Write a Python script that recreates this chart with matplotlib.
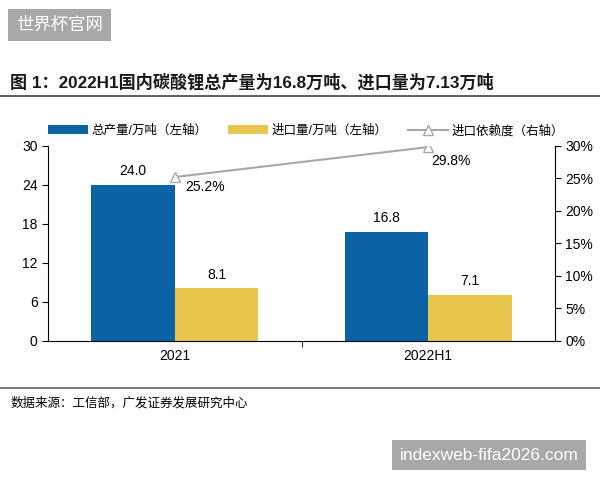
import matplotlib
matplotlib.use('agg')
import matplotlib.pyplot as plt
import numpy as np

plt.rcParams['font.family'] = ['Liberation Sans', 'Noto Sans CJK SC', 'DejaVu Sans']

categories = ['2021', '2022H1']
output_total = [24.0, 16.8]      # 总产量/万吨
imports = [8.1, 7.1]             # 进口量/万吨
import_ratio = [25.2, 29.8]      # 进口依赖度 %

left_ticks = [0, 6, 12, 18, 24, 30]
right_ticks = [0, 5, 10, 15, 20, 25, 30]

blue = '#0b63a5'
yellow = '#e8c54b'
gray = '#a8a8a8'

fig = plt.figure(figsize=(6, 4.8), dpi=100)
ax = fig.add_axes([0.08, 0.2896, 0.845, 0.4067])
ax2 = ax.twinx()

x = np.arange(len(categories))
w = 0.33
ax.bar(x - w / 2, output_total, w, color=blue, label='总产量/万吨（左轴）')
ax.bar(x + w / 2, imports, w, color=yellow, label='进口量/万吨（左轴）')
for xi, v in zip(x - w / 2, output_total):
    ax.text(xi, v + 1.0, f'{v:.1f}', ha='center', va='bottom', fontsize=10)
for xi, v in zip(x + w / 2, imports):
    ax.text(xi, v + 1.0, f'{v:.1f}', ha='center', va='bottom', fontsize=10)

ax2.plot(x, import_ratio, color=gray, lw=1.5, marker='^', ms=7,
         markerfacecolor='white', markeredgecolor=gray, label='进口依赖度（右轴）')
ax2.text(x[0] + 0.04, import_ratio[0] - 1.6, f'{import_ratio[0]:.1f}%', ha='left', va='center', fontsize=10)
ax2.text(x[1] + 0.01, import_ratio[1] - 2.1, f'{import_ratio[1]:.1f}%', ha='left', va='center', fontsize=10)

ax.set_xlim(-0.5, 1.5)
ax.set_ylim(0, 30)
ax2.set_ylim(0, 30)
ax.set_yticks(left_ticks)
ax2.set_yticks(right_ticks)
ax2.set_yticklabels([f'{t}%' for t in right_ticks])
ax.set_xticks(x)
ax.set_xticklabels(categories)
ax.set_xticks([0.5], minor=True)
ax.tick_params(axis='x', which='major', length=0, labelsize=10, pad=6)
ax.tick_params(axis='x', which='minor', length=4)
ax.tick_params(axis='y', labelsize=10, length=4)
ax2.tick_params(axis='y', labelsize=10, length=4)

for a in (ax, ax2):
    a.spines['top'].set_visible(False)
ax.spines['right'].set_visible(False)
ax2.spines['left'].set_visible(False)
ax2.spines['bottom'].set_visible(False)

h1, l1 = ax.get_legend_handles_labels()
h2, l2 = ax2.get_legend_handles_labels()
fig.legend(h1 + h2, l1 + l2, loc='center', bbox_to_anchor=(0.51, 0.727), ncol=3,
           frameon=False, fontsize=9, handlelength=3.2, handleheight=0.7, columnspacing=1.6,
           handletextpad=0.3)

fig.text(0.017, 0.829, '图 1：2022H1国内碳酸锂总产量为16.8万吨、进口量为7.13万吨',
         fontsize=12.3, fontweight='bold', va='center', ha='left', color='#1a1a1a')
fig.add_artist(plt.Line2D([0, 1], [0.8, 0.8], color='#444444', lw=1.2))
fig.add_artist(plt.Line2D([0, 1], [0.192, 0.192], color='#666666', lw=1.2))
fig.text(0.017, 0.16, '数据来源：工信部，广发证券发展研究中心', fontsize=9, va='center', ha='left')

fig.text(0.099, 0.948, '世界杯官网', fontsize=12.5, color='white', ha='center', va='center',
         bbox=dict(boxstyle='square,pad=0.45', fc='#a8a8a8', ec='none'))
fig.text(0.815, 0.052, 'indexweb-fifa2026.com', fontsize=12.5, color='white', ha='center', va='center',
         bbox=dict(boxstyle='square,pad=0.45', fc='#a8a8a8', ec='none'))

fig.savefig('out.png', dpi=100)
